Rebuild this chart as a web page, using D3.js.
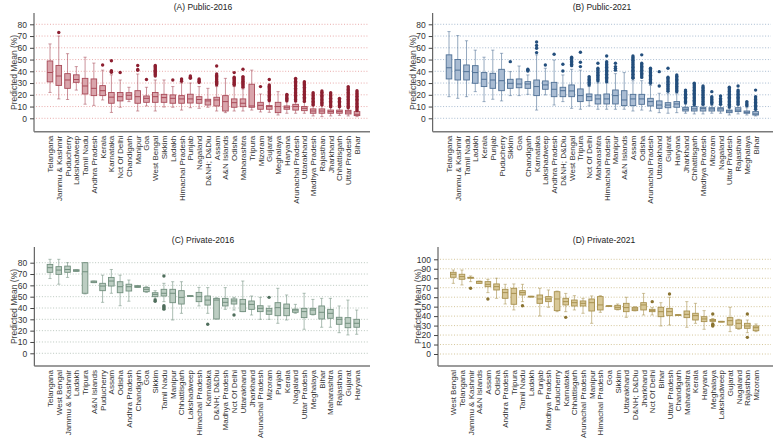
<!DOCTYPE html>
<html>
<head>
<meta charset="utf-8">
<script src="https://d3js.org/d3.v7.min.js"></script>
<title>Predicted mean box plots</title>
<style>
  body { margin: 0; background: #fff; }
  svg { font-family: "Liberation Sans", Arial, sans-serif; }
  .tick text { font-size: 8.5px; fill: #333; }
  .cat { font-size: 8px; fill: #333; }
  .ttl { font-size: 8.5px; fill: #222; }
  .ylab { font-size: 8.5px; fill: #444; }
</style>
</head>
<body>
<svg id="chart" width="775" height="442"></svg>

<script>
// ---------- data : [low whisker, q1, median, q3, high whisker] ----------

var catsA = ["Telangana","Jammu & Kashmir","Puducherry","Lakshadweep","Tamil Nadu","Andhra Pradesh","Kerala","Karnataka","Nct Of Delhi","Chandigarh","Manipur","Goa","West Bengal","Sikkim","Ladakh","Himachal Pradesh","Punjab","Nagaland","D&NH; D&Diu","Assam","A&N Islands","Odisha","Maharashtra","Tripura","Mizoram","Gujarat","Meghalaya","Haryana","Arunachal Pradesh","Uttarakhand","Madhya Pradesh","Rajasthan","Jharkhand","Chhattisgarh","Uttar Pradesh","Bihar"];
var statsA = [[22,31,39,48.8,63.3],[16.5,28,36,45,70],[16,25.5,32.6,38,55],[24,30.6,33,37,44],[12,20.7,27.5,34,52],[11,19.3,25.5,33.5,47],
  [15.6,19.3,23.5,27.8,41],[5,12.8,18,22,37],[9.4,14.8,18.4,22,32.6],[14.2,16.2,19.6,21.8,26.4],[6.2,12.8,18.4,23.5,37.7],[10.5,13.6,17,19,26.4],
  [6.2,13.6,18.4,22,32.6],[9.6,13.6,17.6,20.4,32.6],[9.4,12.8,17,19.9,27],[7,12.8,16.5,19.3,30],[9,13,16.5,20.5,30],[8.5,12.8,16,18.4,27],
  [9.4,11.3,14.8,16.2,25.5],[6.2,10.5,15.6,17.9,27],[4.8,6.2,14.2,19.3,34],[6.2,9.4,13.3,16.5,27],[6.2,9.9,12.8,16.5,25],[7,9.4,10.5,29,41],
  [5.4,7.7,11,13.6,20.7],[5.1,7.7,10,10.8,14],[2.8,4.8,10,13.6,22.7],[4.3,7.7,9.4,10.5,14],[4.3,7,10,11.9,14],[4.3,6.5,8.5,10,14],
  [2,4.3,6.2,8,11],[1.4,4.3,6.2,8,11],[2,4.3,5.7,7,9.5],[2.5,4.3,5.7,7,9.5],[2,3.7,5.4,6.8,9],[1.4,2.3,3.4,5.7,5.7]];
var outA = [[],[73],[],[],[],[],[45.4],[49,40.5,39.8,39.2],[39],[],[45,41.5,40.8],[33],
  [45,44,43,42,41,40,39,38,37,36],[],[32.6],[33.5,32.5,31.5],[36,35,34],[33.5,32.5,31.5,30.5],
  [],[44.5,37.7,36.5,35.5,34.5,33.5,32.5,31.5,30.5,29.5,28.5],[],[38.9,35,34,33,32,31,30,29,28.4],[41.7,35.5,34.5,33.5,32.5,31.5,30.5,29.5,28.5,27.5,26.5],[],
  [27],[33,28.4,27.3,26.2,25.1,24,22.9,21.8,20.7,19.6,18.5,17.4,16.3,15.2],[],[20.4,19.3,18.2,17.1,16,15],
  [34,32.8,31.6,30.4,29.2,28,26.8,25.6,24.4,23.2,22,20.8,19.6,18.4,17.2,16,14.8],[31.2,30,28.8,27.6,26.4,25.2,24,22.8,21.6,20.4,19.2,18,16.8,15.6,14.4],
  [21.8,20.6,19.4,18.2,17,15.8,14.6,13.4,12.2,11.3],[23.3,22.1,20.9,19.7,18.5,17.3,16.1,14.9,13.7,12.5,11.3],[21.8,20.6,19.4,18.2,17,15.8,14.6,13.4,12.2,11,9.8],
  [17,15.8,14.6,13.4,12.2,11,9.8],[27,25.8,24.6,23.4,22.2,21,19.8,18.6,17.4,16.2,15,13.8,12.6,11.4,10.2,9],
  [23.5,22.3,21.1,19.9,18.7,17.5,16.3,15.1,13.9,12.7,11.5,10.3,9.1,7.9,6.7]];

var catsB = ["Telangana","Jammu & Kashmir","Tamil Nadu","Ladakh","Kerala","Punjab","Puducherry","Sikkim","Goa","Chandigarh","Karnataka","Lakshadweep","Andhra Pradesh","D&NH; D&Diu","West Bengal","Tripura","Nct Of Delhi","Maharashtra","Himachal Pradesh","Manipur","A&N Islands","Assam","Odisha","Arunachal Pradesh","Uttarakhand","Gujarat","Haryana","Jharkhand","Chhattisgarh","Madhya Pradesh","Mizoram","Nagaland","Uttar Pradesh","Rajasthan","Meghalaya","Bihar"];
var statsB = [[18.4,33.5,43,54,73.8],[17,32.6,41,50,70.4],[18.4,32.6,39.7,45.4,66],[22.7,29.8,38.9,44.8,58],[14.2,27,33.2,38.9,52],[16.2,25.5,32.6,38.3,58],
  [14.8,23.5,32,41.7,55.3],[19.3,25.5,29.8,33.2,39.7],[19.3,26,29.2,33.5,44.5],[20.4,25.5,29.2,31.2,36.9],[7,19.3,27,32.6,54],[19.9,24.7,28.4,31.8,42.6],
  [11.3,18.4,24.7,30.6,49.6],[14.2,18.4,23.5,26.4,36.9],[8.5,18.4,23.3,28.4,41.7],[7.7,14.2,19.3,25,41],[10.5,15,18.4,20.7,27],[7.7,12.2,16.5,19.9,30],
  [7.7,12.2,16.5,20.7,30],[7.7,12.2,19.3,24.1,38],[7.7,10.8,15.6,23.5,38.9],[6.2,10.8,16.5,20.4,32],[7,11.9,16.5,20.4,32],[6.2,10.5,14.2,17,28],
  [4.8,8.5,11.3,14.8,21.3],[4.3,9,11.3,13.3,21],[4.8,9.4,12.2,14.2,21],[4.3,6.2,7.7,9.4,12],[3.7,6.2,8,10,11],[3.7,6.2,8.2,9.4,11],
  [4.3,6.2,8,9,11],[4.3,6.2,8,9,11],[2.8,4.8,6.2,7,8.5],[3.7,5.7,7,9,11],[2.8,4.3,5.1,6.2,9],[2,2.8,3.7,5.7,7]];
var outB = [[],[],[],[],[],[],[],[48.2],[],[41.7,41,40.3],[65,62,59.6,55.9],[45.4],[54.5],[46,40.3],[52,50.8,49.6,48.4,47.2,46,44.8],[56.2,47.7,44],
  [35.5,34.3,33.1,31.9,30.7,29.5,28.4],[46.8,42.6,41.4,40.2,39,37.8,36.6,35.4,34.2,33,31.8],[53,48.2,47,45.8,44.6,43.4,42.2,41,39.8,38.6,37.4,36.2,35,33.8,32.6,31.2],[46.8,44,42.5,41],[],
  [53,51.8,50.6,49.4,48.2,47,45.8,44.6,43.4,42.2,41,39.8,38.6,37.4,36.2,35,34],[54,46.8,45.6,44.4,43.2,42,40.8,39.6,38.4,37.2,36,34.8],[42.6,41.4,40.2,39,37.8,36.6,35.4,34.2,33,31.8,30.6,29.8],
  [39.7,27.5],[42.6,35,33.8,32.6,31.4,30.2,29,27.8,26.6,25.4,24.2,23],[36.9,35.7,34.5,33.3,32.1,30.9,29.7,28.5,27.3,26.1,24.9,23.7,22.7],
  [24,22.8,21.6,20.4,19.2,18,16.8,15.6,14.4,13.2],[29.8,28.6,27.4,26.2,25,23.8,22.6,21.4,20.2,19,17.8,16.6,15.4,14.2,13,11.8],[27.5,26.3,25.1,23.9,22.7,21.5,20.3,19.1,17.9,16.7,15.5,14.3,13.1,11.9],
  [22.7,18.4,17.2,16,14.8,13.6,12.4],[19,16.8,15.6,14.4,13.2,12],[26.4,25.2,24,22.8,21.6,20.4,19.2,18,16.8,15.6,14.4,13.2,12,10.8,9.6],
  [27.5,24,22.8,21.6,20.4,19.2,18,16.8,15.6,14.4,13.2,12],[14.2,13,11.8,10.6],[24,18.4,17.2,16,14.8,13.6,12.4,11.2,10,8.8,7.6]];

var catsC = ["Telangana","West Bengal","Jammu & Kashmir","Ladakh","Tripura","A&N Islands","Puducherry","Assam","Odisha","Andhra Pradesh","Chandigarh","Goa","Sikkim","Tamil Nadu","Manipur","Chhattisgarh","Lakshadweep","Himachal Pradesh","Karnataka","D&NH; D&Diu","Madhya Pradesh","Nct Of Delhi","Uttarakhand","Jharkhand","Arunachal Pradesh","Mizoram","Punjab","Kerala","Nagaland","Uttar Pradesh","Meghalaya","Bihar","Maharashtra","Rajasthan","Gujarat","Haryana"];
var statsC = [[66,71.5,75.6,78.5,83],[61,69.7,73.5,76.5,83],[67,71.5,74,77,80],[72.4,72.4,73,73.8,73.8],[52.4,53,72,80,80],[62.4,62.4,63,63.8,63.8],
  [45,55.3,59.4,61.8,69],[53,59.4,63.8,67,74],[42,53.5,58.8,63.2,69],[46,55,58.8,61,64.7],[58.2,58.2,59,59.7,59.7],[53.8,54.4,56.5,58.2,58.8],
  [48,50,52,53.5,55.3],[45.6,50.6,53,56.5,61.8],[29.4,44.7,53,56.5,63.2],[35.3,43.5,49.4,55.3,63.2],[50.3,50.3,50.6,50.9,50.9],[41.8,45.6,50,53.8,58.2],
  [35.3,42.6,47,50.6,58],[30.3,30.3,47,48.5,49],[38.8,41.8,45,48.5,58],[38.2,43.5,46.2,48,49.4],[36.8,36.8,43.5,47.6,63.8],[33.8,38.8,43.2,46.2,50.6],
  [30,36.8,39.7,42,49.4],[30,34.4,37.4,39.7,41.8],[26.5,33.2,40.3,44.7,57.4],[29.4,33.2,39.7,43.5,51.5],[35.3,36.2,38.2,39,43.2],[21.2,31.5,36.8,39.7,53],
  [33.8,34.4,38.2,39.7,47.6],[23,30.3,36.2,41.8,48.5],[23,30.9,35.3,38.8,48.5],[18.2,25.6,30,31.8,41.8],[16.2,22.6,26.5,31.5,47],[16.8,23,26.5,30,38.2]];
var outC = [[],[],[],[],[],[],[],[],[],[],[],[],[47,46],[68.2,42,41,40,39],[],[],[],[],[25.6],[],[],[33.8],[],[],[],[49.4],[],[],[],[],[],[],[],[],[],[]];

var catsD = ["West Bengal","Telangana","Jammu & Kashmir","A&N Islands","Assam","Odisha","Andhra Pradesh","Tripura","Tamil Nadu","Ladakh","Punjab","Madhya Pradesh","Puducherry","Karnataka","Chhattisgarh","Arunachal Pradesh","Manipur","Himachal Pradesh","Goa","Sikkim","Uttarakhand","D&NH; D&Diu","Jharkhand","Nct Of Delhi","Bihar","Uttar Pradesh","Chandigarh","Maharashtra","Kerala","Haryana","Meghalaya","Lakshadweep","Gujarat","Nagaland","Rajasthan","Mizoram"];
var statsD = [[74.6,81,84.2,86.3,88.7],[72.9,78.9,81.7,84.2,88.7],[76.4,80,80.6,81,82.4],[74.6,74.6,76.4,76.8,77],[64.8,71.1,73.6,76.4,78.9],[58.8,67.6,71.1,74,80],
  [52.8,58.8,64.8,68.3,73.6],[46.5,52.5,64,69.4,74],[55.3,62.3,64.8,66.9,73.6],[60.2,60.2,60.6,61,61],[40.1,53.5,58.1,62.3,69.4],[49.3,55.3,58.1,60.6,67.6],
  [44.7,45.8,58.1,65.8,66.5],[44.7,51.8,55.3,58.8,64],[46.5,50.7,54.2,57,61.6],[43,50.7,53.5,56,58.8],[32.4,45.4,54.2,58.1,61.3],[44,46.5,51.8,60.6,61.6],
  [50.4,50.4,50.7,51,51],[46.5,47.2,49.3,51.4,52.8],[38.7,44.7,49,53.5,59.9],[45.5,45.8,47.5,49.3,50],[41.2,46.5,51.8,54.2,64],[41.2,44.7,45.8,47.2,49],
  [29.6,39.4,44.7,49.3,54.2],[30.6,40.5,44.7,48.2,59.9],[40.9,40.9,41.2,41.5,41.5],[28.2,38.4,41.9,45.4,55.3],[32.4,35.9,40.5,43,53.5],[26.1,34.2,37,39.4,45.8],
  [33.5,34.5,35.5,36.5,37.5],[33.9,33.9,34.2,34.5,34.5],[23.6,30.6,35.2,38.4,49.3],[26.1,27.1,32.4,35.9,36.6],[22.5,27.1,29.6,32.4,35.9],[23.6,24.6,27.8,29.6,31.7]];
var outD = [[],[],[69.4],[],[58.1],[],[],[],[51],[],[],[],[],[38.7],[],[],[],[],[],[],[],[],[],[55.3],[],[63.4],[],[],[],[],[42.3,31.5,30.5,29.6],[],[],[],[42.3,17.6],[]];

var ticksABC = [0,10,20,30,40,50,60,70,80];
var ticksD = [0,10,20,30,40,50,60,70,80,90,100];

// ---------- layout ----------
var panels = [
  {title:"(A) Public-2016",  cats:catsA, stats:statsA, out:outA, ticks:ticksABC, ax:34,  right:372, p0:50,  p1:357,
   top:13,  bot:131.7, v0:118.3, vMax:80,  pMax:24.3, tx:203, ty:10,
   fill:"#d9a4ab", stroke:"#a84a58", dot:"#8c1f30", grid:"#e6a3a3"},
  {title:"(B) Public-2021",  cats:catsB, stats:statsB, out:outB, ticks:ticksABC, ax:432.7, right:775, p0:449, p1:755.6,
   top:13,  bot:131.7, v0:118.3, vMax:80,  pMax:24.3, tx:602, ty:10,
   fill:"#a9bcd3", stroke:"#4f7095", dot:"#244f7d", grid:"#9fb4cc"},
  {title:"(C) Private-2016", cats:catsC, stats:statsC, out:outC, ticks:ticksABC, ax:34.3, right:372, p0:50,  p1:356.7,
   top:247, bot:366, v0:353.3, vMax:80,  pMax:262.7, tx:203, ty:243,
   fill:"#bccdc2", stroke:"#728f7e", dot:"#4f6e5c", grid:"#b3c2b8"},
  {title:"(D) Private-2021", cats:catsD, stats:statsD, out:outD, ticks:ticksD, ax:438, right:775, p0:453.3, p1:756,
   top:247, bot:366, v0:354, vMax:100, pMax:259.3, tx:604, ty:243,
   fill:"#d8c898", stroke:"#a8914f", dot:"#8a7331", grid:"#cfc08f"}
];

var svg = d3.select("#chart");

panels.forEach(function(p) {
  var g = svg.append("g");
  var y = d3.scaleLinear().domain([0, p.vMax]).range([p.v0, p.pMax]);
  var x = d3.scalePoint().domain(p.cats).range([p.p0, p.p1]);
  var bw = 5.6;

  // dotted grid
  g.selectAll("line.grid").data(p.ticks).enter().append("line")
    .attr("x1", p.ax + 2).attr("x2", p.right - 4)
    .attr("y1", function(d) { return y(d); }).attr("y2", function(d) { return y(d); })
    .attr("stroke", p.grid).attr("stroke-width", 0.9).attr("stroke-dasharray", "1,1.8");

  // y axis
  var yAxis = d3.axisLeft(y).tickValues(p.ticks).tickSize(4).tickPadding(3);
  var ga = g.append("g").attr("transform", "translate(" + p.ax + ",0)").call(yAxis);
  ga.select(".domain").remove();
  ga.selectAll(".tick line").attr("stroke", "#444");
  g.append("line").attr("x1", p.ax).attr("x2", p.ax).attr("y1", p.top).attr("y2", p.bot)
    .attr("stroke", "#444").attr("stroke-width", 1);

  // bottom axis
  g.append("line").attr("x1", p.ax).attr("x2", p.right - 2).attr("y1", p.bot).attr("y2", p.bot)
    .attr("stroke", "#7a7a7a").attr("stroke-width", 1.6);

  // category labels
  g.selectAll("text.cat").data(p.cats).enter().append("text")
    .attr("class", "cat")
    .attr("transform", function(d) { return "translate(" + (x(d) + 3) + "," + (p.bot + 4) + ") rotate(-90)"; })
    .attr("text-anchor", "end")
    .text(function(d) { return d; });

  // y label
  g.append("text").attr("class", "ylab")
    .attr("transform", "translate(" + (p.ax - 17) + "," + ((p.top + p.bot) / 2) + ") rotate(-90)")
    .attr("text-anchor", "middle")
    .text("Predicted Mean (%)");

  // title
  g.append("text").attr("class", "ttl").attr("x", p.tx).attr("y", p.ty)
    .attr("text-anchor", "middle").text(p.title);

  // boxes
  var b = g.selectAll("g.box").data(p.cats).enter().append("g");
  b.each(function(c, i) {
    var s = p.stats[i], cx = x(c), e = d3.select(this);
    e.append("line").attr("x1", cx).attr("x2", cx).attr("y1", y(s[0])).attr("y2", y(s[4]))
      .attr("stroke", p.stroke).attr("stroke-opacity", 0.6).attr("stroke-width", 1);
    [s[0], s[4]].forEach(function(v) {
      e.append("line").attr("x1", cx - 1.6).attr("x2", cx + 1.6).attr("y1", y(v)).attr("y2", y(v))
        .attr("stroke", p.stroke).attr("stroke-opacity", 0.6).attr("stroke-width", 0.9);
    });
    e.append("rect").attr("x", cx - bw / 2).attr("width", bw)
      .attr("y", y(s[3])).attr("height", Math.max(0.8, y(s[1]) - y(s[3])))
      .attr("fill", p.fill).attr("stroke", p.stroke).attr("stroke-width", 0.9);
    e.append("line").attr("x1", cx - bw / 2).attr("x2", cx + bw / 2).attr("y1", y(s[2])).attr("y2", y(s[2]))
      .attr("stroke", p.stroke).attr("stroke-width", 1);
    e.selectAll("circle").data(p.out[i]).enter().append("circle")
      .attr("cx", cx).attr("cy", function(v) { return y(v); }).attr("r", 1.7)
      .attr("fill", p.dot);
  });
});
</script>
</body>
</html>
